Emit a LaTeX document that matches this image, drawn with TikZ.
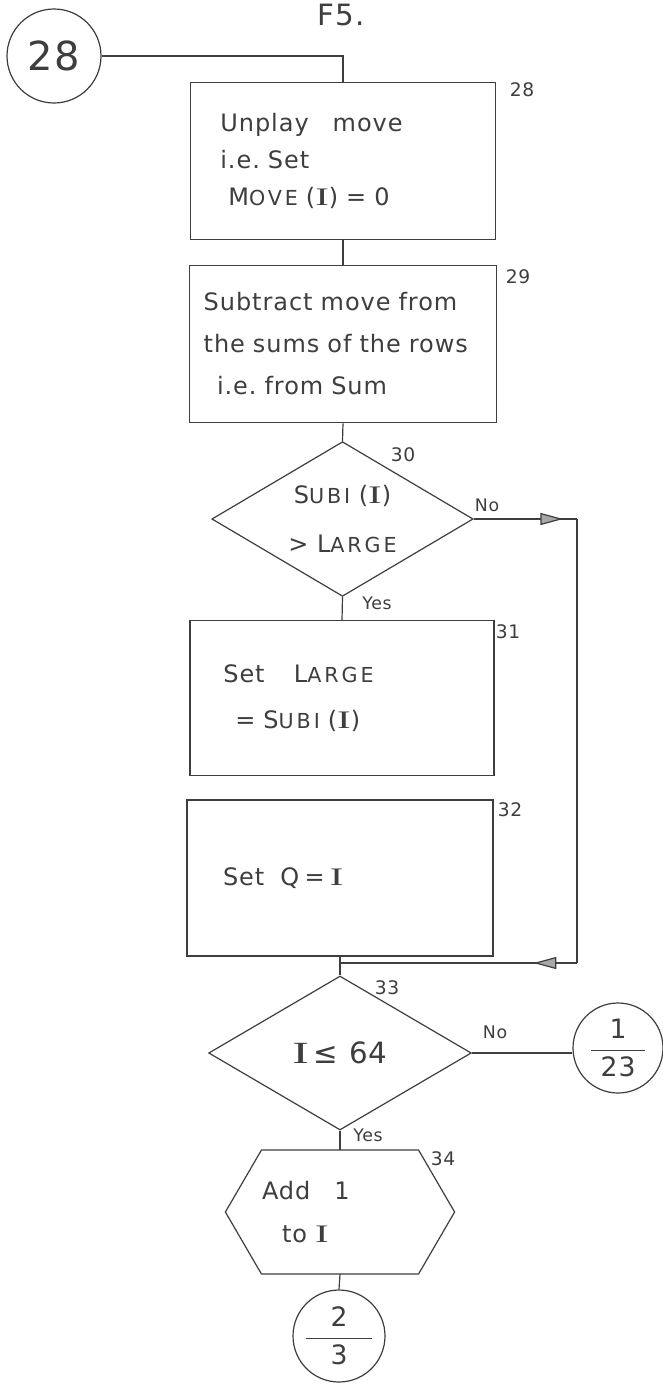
\documentclass[tikz,border=0pt]{standalone}
\usepackage{fontspec}
\setmainfont{DejaVu Sans}[LetterSpace=4]
\newfontfamily\serifI{Liberation Serif}
\usetikzlibrary{shapes.geometric,arrows.meta,decorations.markings}
\definecolor{ink}{RGB}{62,62,62}
\newcommand{\smc}[1]{{\fontsize{15.5}{15.5}\selectfont\addfontfeature{LetterSpace=14}#1}}
\newcommand{\Iv}{{\serifI\scalebox{1.7}[1.05]{I}}}
\tikzset{every picture/.style={line width=0.9pt}}

\begin{document}
\begin{tikzpicture}[x=0.75pt,y=0.75pt,yscale=-1,xscale=1,
  proc/.style={draw=ink,rectangle,align=left,text=ink,minimum height=118pt,font=\fontsize{18}{30}\selectfont},
  decision/.style={draw=ink,diamond,align=center,text=ink,inner sep=0pt,font=\fontsize{18}{37}\selectfont},
  conn/.style={draw=ink,circle,inner sep=0pt,text=ink},
  stepno/.style={text=ink,font=\fontsize{14}{16}\selectfont},
  yesno/.style={text=ink,font=\fontsize{13}{15}\selectfont},
  flow/.style={draw=ink},
  midtip/.style={postaction={decorate},decoration={markings,mark=at position #1 with {\arrow{Triangle[length=17pt,width=9pt,fill=ink!45]}}}}
]
\useasboundingbox (0,0) rectangle (663,1390);
\fill[white] (0,0) rectangle (663,1390);

% page
\node[text=ink,font=\fontsize{22}{22}\selectfont,anchor=base] (pg) at (341,25) {F5.};

% entry
\node[conn,minimum size=70.5pt,font=\fontsize{30}{30}\selectfont] (c28) at (54,56) {28};

% 28
\node[proc,text width=184pt,inner xsep=22.5pt,font=\fontsize{18}{28}\selectfont] (b28) at (343,161) {Unplay\quad move\\i.e.\ Set\\\hspace{6pt}M\smc{OVE} (\Iv) = 0};
\node[stepno] (n28) at (522,90) {28};

% 29
\node[proc,text width=209pt,inner xsep=10.5pt,font=\fontsize{18}{31.5}\selectfont] (b29) at (343,344) {Subtract move from\\the sums of the rows\\\hspace{10pt}i.e.\ from Sum};
\node[stepno] (n29) at (518,277) {29};

% 30
\node[decision,minimum width=196pt,minimum height=116pt,shape aspect=1.7] (d30) at (342.5,519) {S\smc{UBI} (\Iv)\\> L\smc{ARGE}};
\node[stepno] (n30) at (403,455) {30};
\node[yesno] (no30) at (487,505) {No};
\node[yesno] (yes30) at (377,603) {Yes};

% 31
\node[proc,text width=178pt,inner xsep=25pt,minimum height=116pt,font=\fontsize{18}{34}\selectfont] (b31) at (342,698) {Set\hspace{22pt}L\smc{ARGE}\\\hspace{9pt}= S\smc{UBI} (\Iv)};
\node[stepno] (n31) at (508,632) {31};

% 32
\node[proc,text width=175.5pt,inner xsep=27pt,minimum height=117pt] (b32) at (340,878) {Set\hspace{12pt}Q\hspace{4pt}=\hspace{4pt}\Iv};
\node[stepno] (n32) at (510,810) {32};

% 33
\node[decision,minimum width=197pt,minimum height=115.5pt,font=\fontsize{22}{24}\selectfont] (d33) at (340,1053) {\Iv\,≤\hspace{8pt}64};
\node[stepno] (n33) at (387,988) {33};
\node[yesno] (no33) at (495,1032) {No};
\node[yesno] (yes33) at (368,1135) {Yes};

% exit
\node[conn,minimum size=67.5pt,font=\fontsize{20}{24}\selectfont] (c23) at (618,1048) {$\displaystyle\frac{\makebox[40pt]{1}}{\makebox[40pt]{23}}$};

% 34
\node[text=ink,align=left,minimum width=171pt,minimum height=92pt,text width=117pt,inner xsep=27pt,font=\fontsize{18}{32}\selectfont] (b34) at (340,1212) {Add\quad 1\\\hspace{15pt}to \Iv};
\draw[flow] (b34.west) -- ([xshift=27pt]b34.north west) -- ([xshift=-27pt]b34.north east) -- (b34.east) -- ([xshift=-27pt]b34.south east) -- ([xshift=27pt]b34.south west) -- cycle;
\node[stepno] (n34) at (443,1159) {34};

\node[conn,minimum size=69pt,font=\fontsize{20}{24}\selectfont] (c3) at (339,1336) {$\displaystyle\frac{\makebox[50pt]{2}}{\makebox[50pt]{3}}$};

% connectors
\coordinate (r1) at (577,519);
\coordinate (r2) at (577,963);
\coordinate (j33) at (340,963);

\draw[flow] (c28.east) -| (b28.north);
\draw[flow] (b28.south) -- (b29.north);
\draw[flow] (b29.south) -- (d30.north);
\draw[flow] (d30.south) -- (b31.north);
\draw[flow,midtip=0.865] (d30.east) -- (r1);
\draw[flow] (r1) -- (r2);
\draw[flow,midtip=0.183] (r2) -- (j33);
\draw[flow] (b32.south) -- (d33.north);
\draw[flow] (d33.east) -- (d33.east -| c23.west);
\draw[flow] (d33.south) -- (b34.north);
\draw[flow] (b34.south) -- (c3.north);

\end{tikzpicture}
\end{document}
